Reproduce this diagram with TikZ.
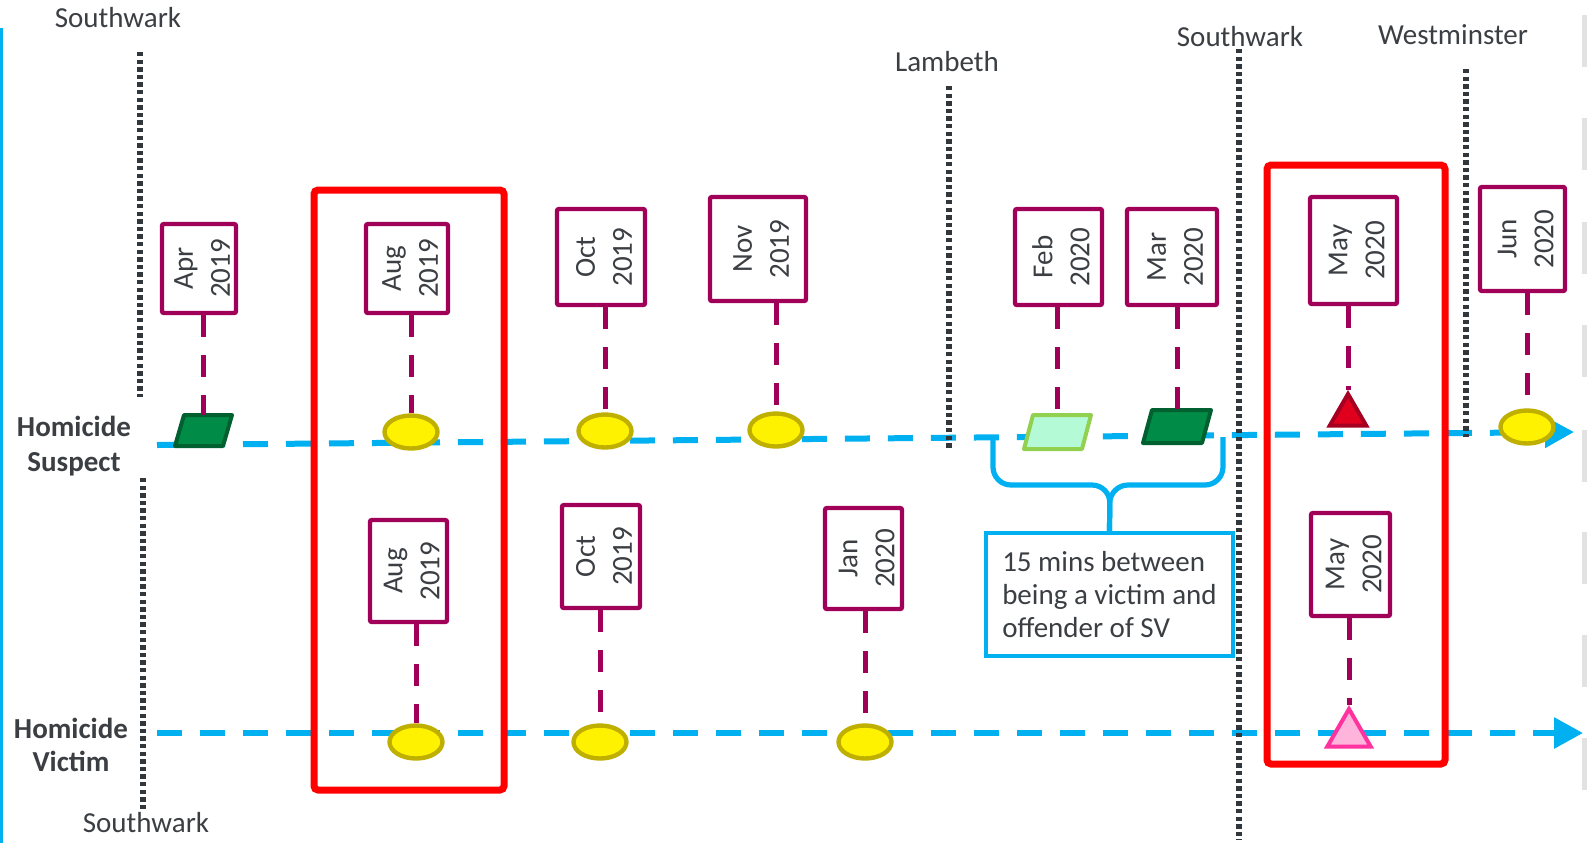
\documentclass[tikz,border=0pt]{standalone}
\usepackage{fontspec}
\setmainfont{Carlito}
\usetikzlibrary{arrows.meta,shapes.geometric}
\definecolor{txt}{RGB}{59,63,67}
\definecolor{dpurple}{RGB}{160,0,88}
\definecolor{lblue}{RGB}{0,176,240}
\definecolor{dgray}{RGB}{50,55,60}
\definecolor{yfill}{RGB}{255,242,0}
\definecolor{yedge}{RGB}{191,176,0}
\definecolor{gfill}{RGB}{0,140,70}
\definecolor{gedge}{RGB}{0,96,48}
\definecolor{lgfill}{RGB}{180,250,215}
\definecolor{lgedge}{RGB}{146,208,80}
\definecolor{rfill}{RGB}{224,0,30}
\definecolor{redge}{RGB}{165,0,33}
\definecolor{pfill}{RGB}{255,180,220}
\definecolor{pedge}{RGB}{255,50,160}
\definecolor{edgegray}{RGB}{226,226,226}
\newcommand{\datetxt}[2]{\makebox[0pt]{\hspace*{5pt}\raisebox{-2pt}{\rotatebox{90}{\begin{tabular}{@{}c@{}}#1\\#2\end{tabular}}}}}
\newcommand{\drawpara}[2]{\draw[#2,line width=2pt,line join=round] (#1.south west) -- ([xshift=4.5pt]#1.north west) -- (#1.north east) -- ([xshift=-4.5pt]#1.south east) -- cycle;}
\begin{document}
\begin{tikzpicture}[x=0.5pt,y=-0.5pt,
  lab/.style={text=txt,font=\fontsize{14.5}{17.5}\selectfont,inner sep=0pt},
  rowlab/.style={text=txt,font=\bfseries\fontsize{14.5}{#1}\selectfont,inner sep=0pt,align=center},
  datebox/.style 2 args={draw=dpurple,line width=2.2pt,fill=white,rounded corners=1pt,
    minimum width=#1*0.5pt,minimum height=#2*0.5pt,inner sep=0pt,text=txt,
    font=\fontsize{14.5}{18.5}\selectfont},
  ell/.style={ellipse,draw=yedge,fill=yfill,line width=2.2pt,minimum width=26.5pt,minimum height=16.5pt,inner sep=0pt},
  para/.style 2 args={rectangle,inner sep=0pt,outer sep=0pt,minimum width=#1*0.5pt,minimum height=#2*0.5pt},
  darkpara/.style={draw=gedge,fill=gfill},
  lightpara/.style={draw=lgedge,fill=lgfill},
  tri/.style={regular polygon,regular polygon sides=3,line width=2pt,inner sep=0pt},
  stem/.style={draw=dpurple,line width=2.5pt,dash pattern=on 11pt off 9pt},
  bline/.style={draw=lblue,line width=3pt,dash pattern=on 12.5pt off 9pt,
    -{Triangle[length=14.5pt,width=15pt]}},
  dotline/.style={draw=dgray,line width=2.8pt,dash pattern=on 2.2pt off 1.6pt},
  redbox/.style={draw=red,line width=3.5pt,rounded corners=2pt},
  brace/.style={draw=lblue,line width=2.6pt,rounded corners=9pt}
]
\useasboundingbox (0,0) rectangle (1587,843);
\fill[white] (0,0) rectangle (1587,843);
% left edge bar
\fill[lblue] (0,28) rectangle (3,843);
% right edge grey bits
\foreach \yy in {15,118,222,325,430,532,635,738}
  \fill[edgegray] (1582,\yy) rectangle (1587,\yy+52);

% time lines
\coordinate (sA) at (157,445);
\coordinate (sB) at (1574,432);
\coordinate (vA) at (157,733);
\coordinate (vB) at (1583,733);
\draw[bline] (sA) -- (sB);
\draw[bline] (vA) -- (vB);

% district boundaries
\draw[dotline] (140,52) -- (140,397);
\draw[dotline] (143,478) -- (143,810);
\draw[dotline] (949,86) -- (949,450);
\draw[dotline] (1239,49) -- (1239,840);
\draw[dotline] (1466,69) -- (1466,437);
\node[lab] (l1) at (118,18) {Southwark};
\node[lab] (l2) at (146,823) {Southwark};
\node[lab] (l3) at (947,62) {Lambeth};
\node[lab] (l4) at (1240,37) {Southwark};
\node[lab] (l5) at (1453,35) {Westminster};

% row labels
\node[rowlab=17.5pt] (rs) at (74,446) {Homicide\\Suspect};
\node[rowlab=16.5pt] (rv) at (71,745) {Homicide\\Victim};

% red highlight boxes
\draw[redbox] (314,190) rectangle (504,790);
\draw[redbox] (1267,165) rectangle (1445,764);

% callout
\node[draw=lblue,line width=2pt,minimum width=123.5pt,minimum height=61.5pt,inner sep=0pt,
  align=left,text=txt,font=\fontsize{14.5}{16.7}\selectfont] (cb) at (1109.5,594.5)
  {15 mins between\\being a victim and\\offender of SV};
\coordinate (bl) at (993,438);
\coordinate (br) at (1223,437);
\draw[brace] (bl) -- (993,485) -- (1110,485) -- (cb.north);
\draw[brace] (br) -- (1223,485) -- (1110,485) -- (cb.north);

% date boxes - suspect
\node[datebox={74}{89}] (b1) at (199,268.5) {\datetxt{Apr}{2019}};
\node[datebox={82}{89}] (b2) at (407,268.5) {\datetxt{Aug}{2019}};
\node[datebox={88}{96}] (b3) at (601,257) {\datetxt{Oct}{2019}};
\node[datebox={96}{104}] (b4) at (758,249) {\datetxt{Nov}{2019}};
\node[datebox={87}{96}] (b5) at (1058.5,257) {\datetxt{Feb}{2020}};
\node[datebox={90}{96}] (b6) at (1172,257) {\datetxt{Mar}{2020}};
\node[datebox={87}{107}] (b7) at (1353.5,250.5) {\datetxt{May}{2020}};
\node[datebox={85}{104}] (b8) at (1522.5,239) {\datetxt{Jun}{2020}};
% date boxes - victim
\node[datebox={77}{102}] (b9) at (408.5,571) {\datetxt{Aug}{2019}};
\node[datebox={78}{103}] (b10) at (601,556.5) {\datetxt{Oct}{2019}};
\node[datebox={77}{101}] (b11) at (863.5,558.5) {\datetxt{Jan}{2020}};
\node[datebox={79}{103}] (b12) at (1350.5,564.5) {\datetxt{May}{2020}};

% markers - suspect
\node[para={57}{31}] (m1) at (203.5,430.5) {};
\drawpara{m1}{darkpara}
\node[ell] (m2) at (411,432) {};
\node[ell] (m3) at (605,431) {};
\node[ell] (m4) at (776,430) {};
\node[para={67}{34}] (m5) at (1057.5,432) {};
\drawpara{m5}{lightpara}
\node[para={68}{33}] (m6) at (1177,426.5) {};
\drawpara{m6}{darkpara}
\node[tri,draw=redge,fill=rfill,minimum size=21pt] (m7) at (1348,415) {};
\node[ell] (m8) at (1527,427) {};
% markers - victim
\node[ell] (m9) at (416,742) {};
\node[ell] (m10) at (600,742) {};
\node[ell] (m11) at (865,742) {};
\node[tri,draw=pedge,fill=pfill,minimum size=25pt] (m12) at (1349,734) {};

% stems
\foreach \i in {1,...,12}
  \draw[stem] (m\i.north |- b\i.south) -- (m\i.north);
\end{tikzpicture}
\end{document}
